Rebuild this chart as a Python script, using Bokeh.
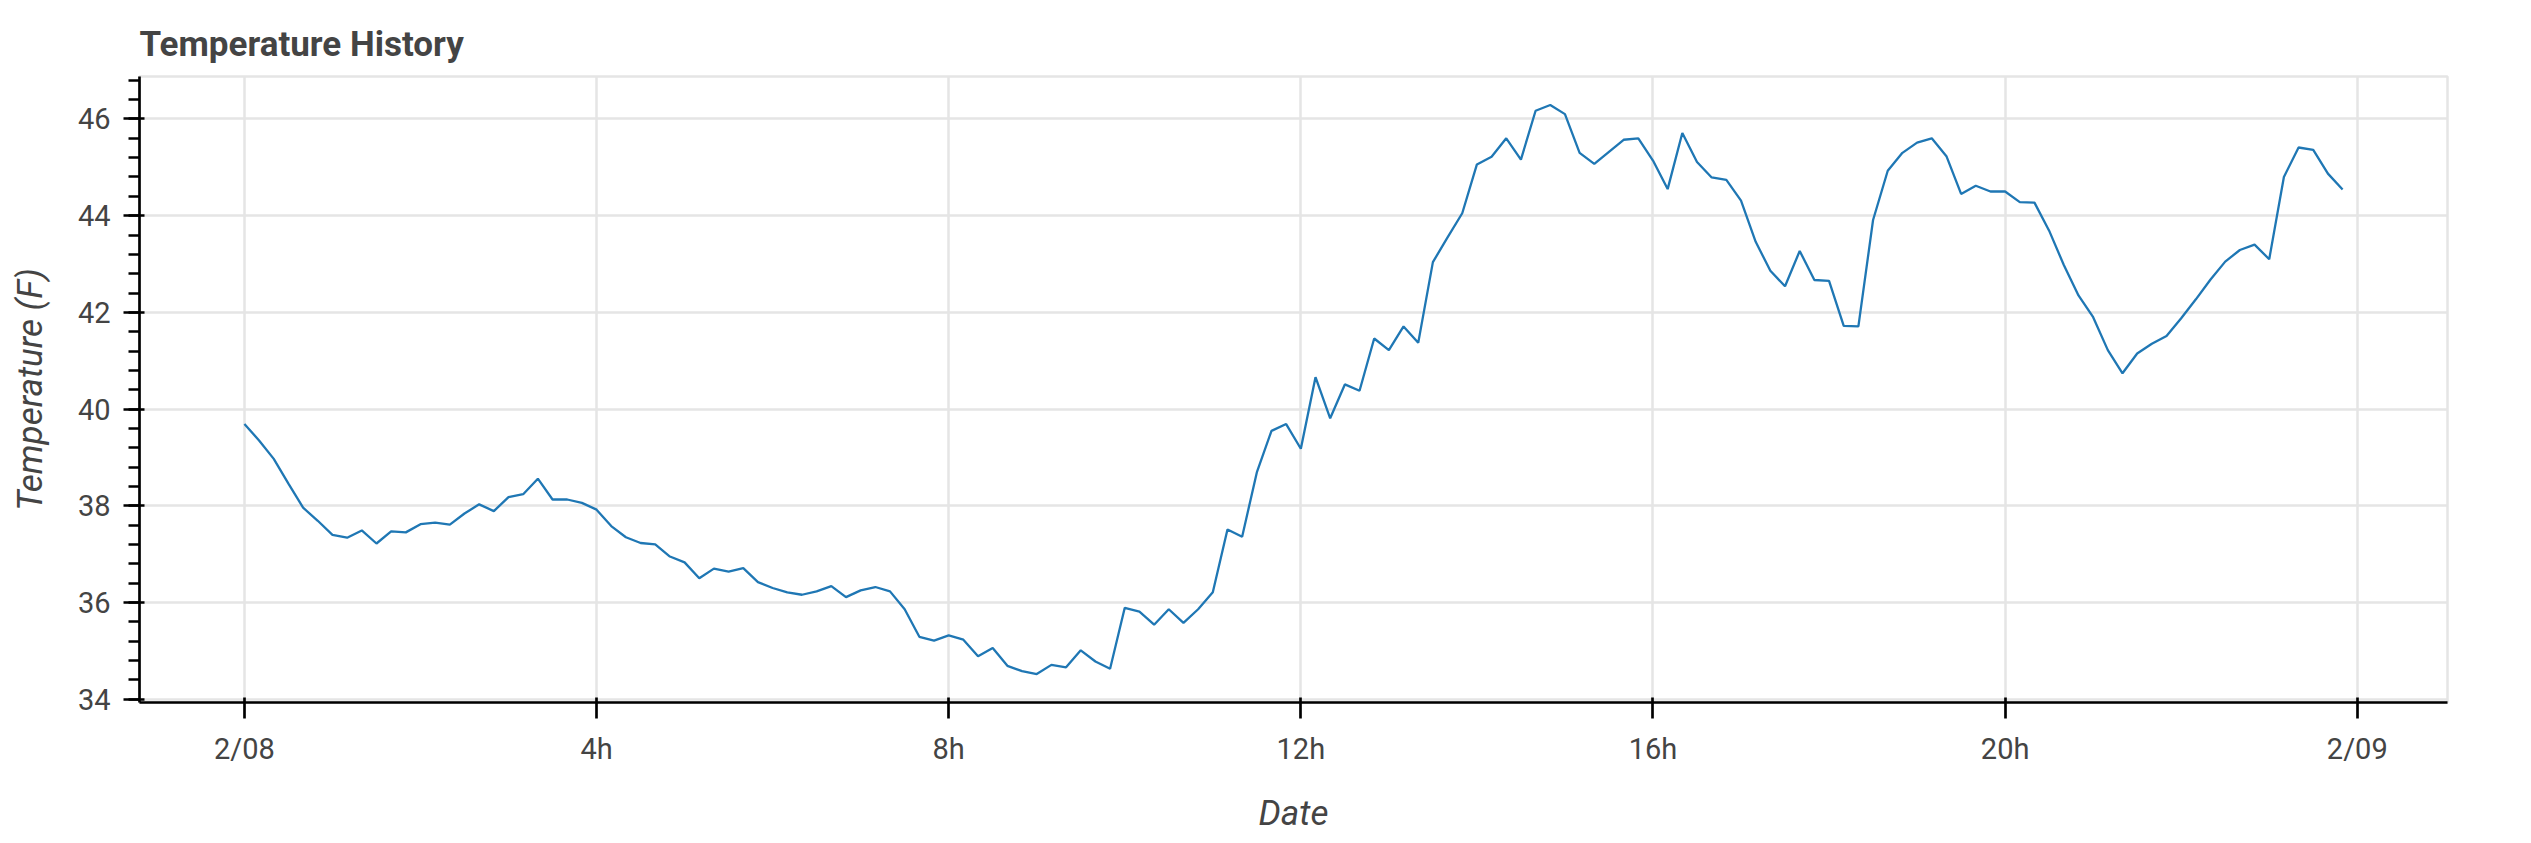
import pandas as pd
from bokeh.plotting import figure
from bokeh.models import DatetimeTickFormatter
from bokeh.embed import file_html
from bokeh.resources import INLINE

# ---- data (10-minute readings, 2/08 00:00 -> 23:50) ----
start_time = "2024-02-08 00:00"
step = "10min"
temperature_f = [
    39.69, 39.35, 38.97, 38.46, 37.96, 37.69, 37.40, 37.34, 37.49, 37.22,
    37.47, 37.45, 37.62, 37.65, 37.61, 37.84, 38.03, 37.89, 38.18, 38.24,
    38.56, 38.13, 38.13, 38.06, 37.92, 37.58, 37.35, 37.23, 37.20, 36.95,
    36.83, 36.50, 36.70, 36.64, 36.71, 36.42, 36.30, 36.21, 36.16, 36.23,
    36.34, 36.11, 36.25, 36.32, 36.23, 35.86, 35.29, 35.21, 35.32, 35.23,
    34.89, 35.06, 34.69, 34.58, 34.52, 34.71, 34.66, 35.01, 34.78, 34.63,
    35.89, 35.81, 35.54, 35.86, 35.58, 35.86, 36.21, 37.51, 37.36, 38.69,
    39.55, 39.69, 39.18, 40.66, 39.81, 40.51, 40.38, 41.46, 41.22, 41.71,
    41.37, 43.04, 43.55, 44.05, 45.06, 45.22, 45.60, 45.16, 46.17, 46.29,
    46.10, 45.30, 45.07, 45.32, 45.57, 45.60, 45.14, 44.55, 45.71, 45.11,
    44.79, 44.74, 44.31, 43.46, 42.86, 42.54, 43.27, 42.67, 42.65, 41.72,
    41.71, 43.91, 44.93, 45.30, 45.51, 45.60, 45.23, 44.45, 44.62, 44.50,
    44.50, 44.28, 44.27, 43.69, 42.98, 42.35, 41.90, 41.22, 40.74, 41.15,
    41.35, 41.51, 41.88, 42.27, 42.68, 43.05, 43.29, 43.40, 43.10, 44.80,
    45.41, 45.36, 44.87, 44.54,
]
title_text = "Temperature History"
x_label = "Date"
y_label = "Temperature (F)"

times = pd.date_range(start_time, periods=len(temperature_f), freq=step)

S = 2.67  # visual scale
FONT = "Roboto"
TXT = "#444444"

W, H = 2512, 836
FRAME_L, FRAME_T, FRAME_R, FRAME_B = 139, 76, 2447, 703
p = figure(
    width=W, height=H, x_axis_type="datetime",
    title=title_text, x_axis_label=x_label, y_axis_label=y_label,
    output_backend="svg", toolbar_location=None,
    min_border_left=FRAME_L, min_border_top=FRAME_T,
    min_border_right=W - FRAME_R, min_border_bottom=H - FRAME_B,
)

p.line(times, temperature_f, line_color="#1f77b4", line_width=2.3)

p.xaxis[0].formatter = DatetimeTickFormatter(
    hours="%Hh", hourmin="%Hh", days="%m/%d", context=None,
    strip_leading_zeros=True, boundary_scaling=True,
)

# title
p.title.text_font = FONT
p.title.text_font_size = "35px"
p.title.text_font_style = "bold"
p.title.text_color = TXT
p.title.offset = 0
p.title.standoff = 23

# axes
for ax in (p.xaxis[0], p.yaxis[0]):
    ax.axis_line_width = S
    ax.major_tick_line_width = S
    ax.minor_tick_line_width = S
    ax.major_tick_out = int(round(6 * S))
    ax.major_tick_in = int(round(2 * S))
    ax.minor_tick_out = int(round(4 * S))
    ax.minor_tick_in = 0
    ax.major_label_text_font = FONT
    ax.major_label_text_font_size = "29px"
    ax.major_label_text_color = TXT
    ax.major_label_standoff = int(round(5 * S))
    ax.axis_label_text_font = FONT
    ax.axis_label_text_font_size = "35px"
    ax.axis_label_text_font_style = "italic"
    ax.axis_label_text_color = TXT
    ax.axis_label_standoff = 24

# grid / outline
for g in (p.xgrid[0], p.ygrid[0]):
    g.grid_line_color = "#e5e5e5"
    g.grid_line_width = 2.5
p.outline_line_color = "#e5e5e5"
p.outline_line_width = 2.5

open("out.html", "w").write(file_html(p, INLINE))
